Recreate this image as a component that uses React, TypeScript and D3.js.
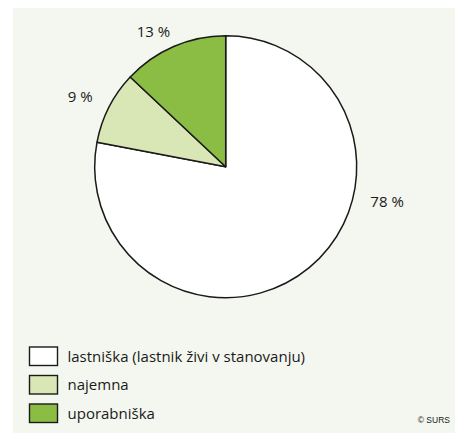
import React from "react";
import * as d3 from "d3";

const categories = ["lastniška (lastnik živi v stanovanju)", "najemna", "uporabniška"];
const values = [78, 9, 13];
const labels = ["78 %", "9 %", "13 %"];
const colors = ["#ffffff", "#d9e6b6", "#8bbd44"];

const W = 455;
const H = 433;
const cx = 225.7;
const cy = 166.7;
const R = 131;
// label placement: angle (deg, clockwise from top) and radius
const labelAngles = [102, 296, 332];
const labelRadii = [165, 162, 154];

export default function App() {
  const pie = d3.pie<number>().sort(null).value((d) => d)(values);
  const arc = d3.arc<d3.PieArcDatum<number>>().innerRadius(0).outerRadius(R);
  const font = "'Open Sans', 'Noto Sans', sans-serif";
  return (
    <svg width={W} height={H} style={{ position: "absolute", left: 0, top: 0 }}>
      <rect x={13} y={8} width={W - 13} height={H - 8} fill="#f4f7ef" />
      <g transform={`translate(${cx},${cy})`}>
        {pie.map((p, i) => (
          <path key={i} d={arc(p) || ""} fill={colors[i]} stroke="#1a1a1a" strokeWidth={1.5} strokeLinejoin="round" />
        ))}
        {pie.map((p, i) => {
          const a = (labelAngles[i] * Math.PI) / 180;
          const x = Math.sin(a) * labelRadii[i];
          const y = -Math.cos(a) * labelRadii[i];
          return (
            <text key={i} x={x} y={y} textAnchor="middle" dominantBaseline="central" fontFamily={font} fontSize={15} fill="#1a1a1a">
              {labels[i]}
            </text>
          );
        })}
      </g>
      {categories.map((c, i) => (
        <g key={i} transform={`translate(29.5,${347 + i * 28.5})`}>
          <rect width={28} height={18.5} fill={colors[i]} stroke="#1a1a1a" strokeWidth={1.4} />
          <text x={38} y={14.5} fontFamily={font} fontSize={15} fill="#1a1a1a">{c}</text>
        </g>
      ))}
      <text x={450} y={423} textAnchor="end" fontFamily="'Liberation Sans', Arial, sans-serif" fontSize={8.5} fill="#1a1a1a">© SURS</text>
    </svg>
  );
}
